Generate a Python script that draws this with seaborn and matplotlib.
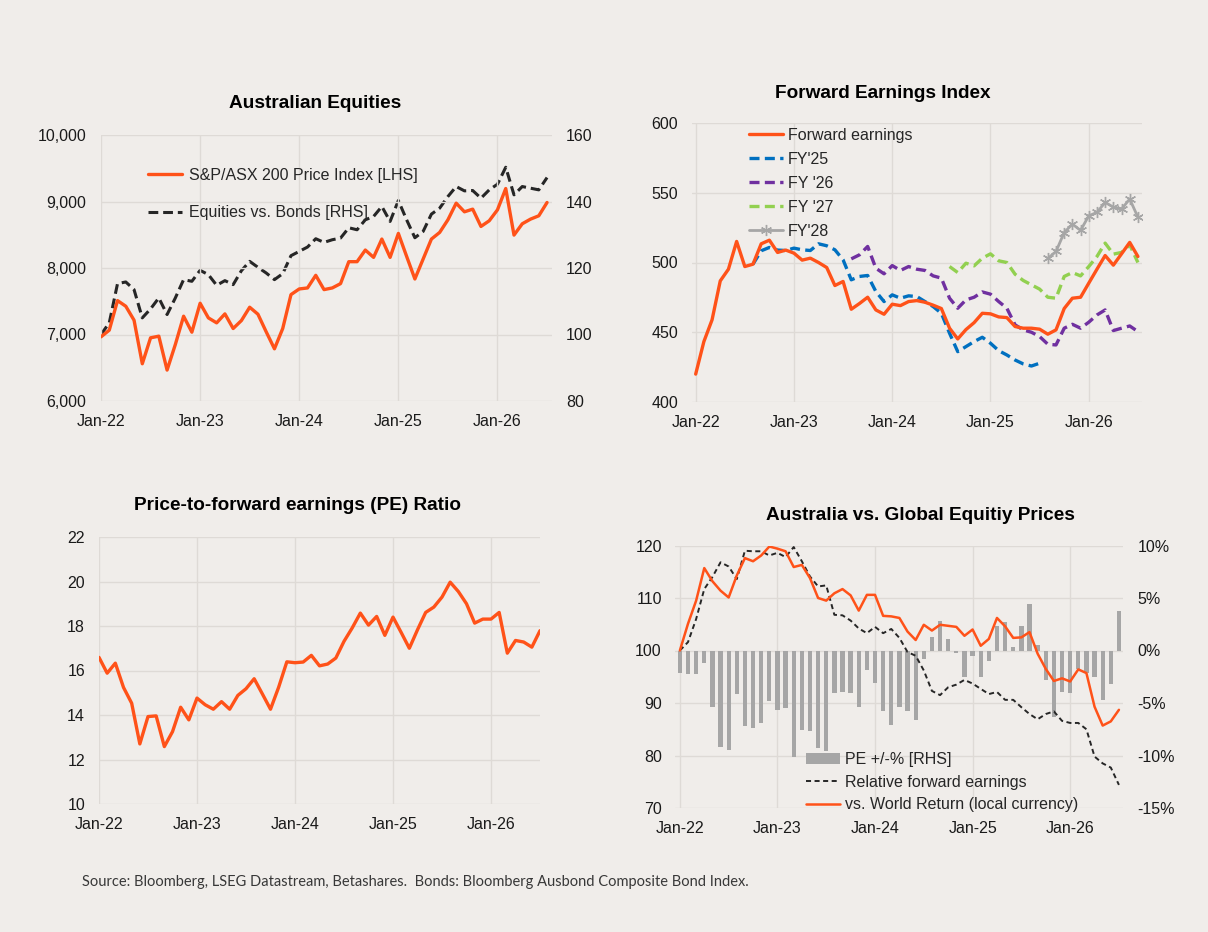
import numpy as np
import pandas as pd
import matplotlib
matplotlib.use("Agg")
import matplotlib.pyplot as plt
from matplotlib.ticker import FuncFormatter
import seaborn as sns

# ---------------- data ----------------
months = list(range(55))  # Jan-22 .. Jul-26, monthly
tick_pos = [0, 12, 24, 36, 48]
tick_labels = ["Jan-22", "Jan-23", "Jan-24", "Jan-25", "Jan-26"]

asx200 = [6965, 7065, 7510, 7425, 7215, 6560, 6950, 6975, 6465, 6850,
          7275, 7035, 7470, 7250, 7175, 7310, 7090, 7210, 7410, 7305,
          7040, 6785, 7090, 7600, 7685, 7700, 7890, 7675, 7700, 7765,
          8095, 8095, 8270, 8160, 8435, 8160, 8520, 8175, 7835, 8135,
          8435, 8535, 8725, 8975, 8845, 8885, 8625, 8710, 8875, 9195,
          8495, 8665, 8735, 8785, 8985]
eq_vs_bonds = [100.0, 103.5, 115.3, 115.8, 113.5, 105.0, 107.7, 111.0, 106.0, 111.0,
               116.5, 116.0, 119.3, 118.0, 114.8, 116.2, 115.0, 119.2, 122.0, 120.2,
               118.5, 116.5, 118.3, 123.7, 125.0, 126.3, 128.8, 127.7, 128.5, 129.0,
               132.1, 131.5, 134.5, 135.5, 138.5, 134.0, 140.3, 134.5, 129.1, 131.0,
               136.2, 138.0, 141.5, 144.5, 143.2, 143.3, 141.0, 143.5, 145.2, 150.3,
               142.0, 144.5, 144.0, 143.5, 147.2]

fwd_earnings = [420.0, 443.3, 458.9, 486.8, 495.2, 515.1, 497.1, 498.8, 513.4, 516.0,
                507.2, 508.9, 506.7, 501.7, 503.1, 500.0, 496.4, 483.5, 486.4, 466.5,
                470.6, 475.1, 466.0, 462.9, 470.1, 469.1, 472.0, 472.7, 471.5, 469.4,
                467.0, 452.9, 445.2, 451.9, 456.9, 463.6, 463.2, 461.0, 460.5, 454.1,
                452.9, 452.9, 452.2, 448.6, 451.7, 467.0, 474.4, 475.1, 485.2, 495.2,
                505.0, 498.1, 506.2, 514.4, 504.3]
fy25_months = list(range(7, 43))
fy25 = [498.8, 508.4, 510.8, 508.9, 508.6, 510.3, 509.1, 508.6, 513.4, 512.0,
        509.1, 501.9, 487.6, 490.0, 490.7, 479.2, 472.0, 476.8, 474.4, 476.1,
        475.6, 472.0, 468.4, 463.6, 449.3, 436.1, 439.7, 443.3, 446.4, 442.1,
        436.8, 433.7, 430.1, 427.3, 425.8, 427.8]
fy26_months = list(range(19, 55))
fy26 = [502.6, 505.5, 511.5, 495.9, 491.9, 497.8, 494.3, 497.1, 495.2, 494.3,
        490.4, 488.8, 474.4, 467.2, 473.2, 475.1, 478.9, 477.3, 472.0, 467.2,
        455.3, 451.7, 450.0, 446.9, 441.4, 440.9, 452.9, 455.7, 452.9, 457.2,
        462.4, 466.0, 451.2, 452.9, 454.5, 450.5]
fy27_months = list(range(31, 55))
fy27 = [497.1, 492.8, 499.5, 497.6, 503.1, 506.2, 501.2, 500.0, 491.6, 487.1,
        484.0, 480.9, 475.1, 474.4, 490.0, 492.8, 490.4, 497.1, 504.3, 513.9,
        506.0, 507.2, 512.7, 500.0]
fy28_months = list(range(43, 55))
fy28 = [502.9, 507.9, 521.5, 527.5, 523.0, 533.5, 535.9, 543.1, 539.7, 538.3,
        545.5, 532.5]

pe_ratio = [16.59, 15.88, 16.33, 15.24, 14.53, 12.70, 13.93, 13.96, 12.58, 13.25,
            14.35, 13.78, 14.76, 14.46, 14.26, 14.60, 14.26, 14.88, 15.18, 15.63,
            14.95, 14.26, 15.25, 16.39, 16.35, 16.38, 16.68, 16.21, 16.29, 16.56,
            17.31, 17.91, 18.58, 18.04, 18.43, 17.58, 18.40, 17.71, 17.00, 17.83,
            18.61, 18.85, 19.30, 19.97, 19.55, 19.00, 18.13, 18.31, 18.31, 18.61,
            16.78, 17.35, 17.28, 17.05, 17.79]

pe_change_pct = [-2.10, -2.25, -2.20, -1.15, -5.40, -9.15, -9.50, -4.15, -7.15, -7.40,
                 -6.90, -4.85, -5.65, -5.50, -10.15, -7.55, -7.65, -9.30, -9.60, -4.00,
                 -3.95, -4.00, -5.40, -1.90, -3.10, -5.80, -7.10, -5.40, -5.80, -6.60,
                 -0.80, 1.25, 2.80, 1.10, -0.20, -2.55, -0.55, -2.55, -1.00, 2.35,
                 2.75, 0.30, 2.30, 4.45, 0.55, -2.85, -6.35, -3.95, -4.00, -1.80,
                 -2.15, -2.55, -4.75, -3.20, 3.80]
rel_fwd_earnings = [100.0, 101.6, 106.0, 111.7, 114.0, 116.8, 116.0, 113.6, 119.0, 118.9,
                    118.9, 118.1, 118.6, 117.8, 119.7, 117.0, 114.1, 112.2, 112.4, 106.8,
                    106.7, 105.7, 104.2, 103.3, 104.5, 103.3, 104.1, 102.4, 99.7, 99.0,
                    96.2, 92.3, 91.5, 93.0, 93.5, 94.4, 93.7, 92.7, 91.7, 92.1,
                    90.6, 90.6, 89.2, 87.9, 86.9, 87.9, 88.4, 86.6, 86.2, 86.2,
                    85.0, 79.8, 78.5, 77.7, 74.4]
vs_world = [100.0, 105.1, 109.5, 115.7, 113.2, 111.4, 110.1, 114.3, 117.6, 117.0,
            118.1, 119.8, 119.4, 118.9, 115.9, 116.3, 113.8, 110.0, 109.5, 110.9,
            111.7, 110.5, 107.6, 110.6, 110.6, 106.6, 106.5, 106.2, 103.6, 102.0,
            104.9, 103.8, 104.9, 104.7, 104.5, 102.8, 104.0, 100.9, 102.2, 106.2,
            104.6, 102.4, 102.5, 103.5, 99.4, 96.5, 94.2, 94.7, 94.1, 96.4,
            95.7, 89.3, 85.7, 86.5, 88.7]

titles = ["Australian Equities", "Forward Earnings Index",
          "Price-to-forward earnings (PE) Ratio", "Australia vs. Global Equitiy Prices"]
source_text = ("Source: Bloomberg, LSEG Datastream, Betashares.  "
               "Bonds: Bloomberg Ausbond Composite Bond Index.")

# ---------------- style ----------------
BG = "#F0EDEA"
GRID = "#DEDAD6"
ORANGE = "#FF5219"
BLUE = "#0070C0"
PURPLE = "#7030A0"
GREEN = "#92D050"
GREY = "#A6A6A6"
TXT = "#1A1A1A"
FS = 11.5

sns.set_theme(style="whitegrid", rc={
    "axes.facecolor": BG, "figure.facecolor": BG, "grid.color": GRID,
    "grid.linewidth": 1.0, "axes.edgecolor": BG,
})
plt.rcParams["font.family"] = ["Liberation Sans", "DejaVu Sans"]
plt.rcParams["axes.unicode_minus"] = False
plt.rcParams["font.size"] = FS

W, H = 1208, 932
fig = plt.figure(figsize=(W / 100, H / 100), dpi=100)


def rect(l, t, r, b):
    return [l / W, 1 - b / H, (r - l) / W, (b - t) / H]


def style_ax(ax, grid=True, ypad=10):
    for s in ax.spines.values():
        s.set_visible(False)
    ax.tick_params(axis="both", length=0, labelsize=FS, labelcolor=TXT)
    ax.tick_params(axis="y", pad=ypad)
    ax.tick_params(axis="x", pad=9.5)
    ax.set_xlabel("")
    ax.set_ylabel("")
    ax.grid(grid)


def set_months(ax):
    ax.set_xticks(tick_pos)
    ax.set_xticklabels(tick_labels)


def legend_kw(x, y, spacing, hlen=2.1, pad=0.4):
    return dict(loc="upper left", frameon=False,
                bbox_to_anchor=(x / W, 1 - y / H), bbox_transform=fig.transFigure,
                borderaxespad=0, borderpad=0, handlelength=hlen,
                handletextpad=pad, labelspacing=spacing, fontsize=FS)


# ---------- Panel 1: Australian Equities ----------
ax1 = fig.add_axes(rect(101, 135, 552, 401))
ax1b = ax1.twinx()
sns.lineplot(x=months, y=eq_vs_bonds, ax=ax1b, color="#262626", lw=2.2,
             linestyle=(0, (3.2, 1.6)), label="Equities vs. Bonds [RHS]")
sns.lineplot(x=months, y=asx200, ax=ax1, color=ORANGE, lw=2.4,
             label="S&P/ASX 200 Price Index [LHS]")
ax1.set_ylim(6000, 10000)
ax1.set_yticks([6000, 7000, 8000, 9000, 10000])
ax1.yaxis.set_major_formatter(FuncFormatter(lambda v, p: f"{v:,.0f}"))
ax1b.set_ylim(80, 160)
ax1b.set_yticks([80, 100, 120, 140, 160])
ax1.set_xlim(0, 54.6)
set_months(ax1)
style_ax(ax1, ypad=10.5)
style_ax(ax1b, grid=False, ypad=10)
ax1.set_zorder(ax1b.get_zorder() + 1)
ax1.patch.set_visible(False)
ax1b.patch.set_visible(True)
h1, l1 = ax1.get_legend_handles_labels()
h2, l2 = ax1b.get_legend_handles_labels()
if ax1b.get_legend():
    ax1b.get_legend().remove()
ax1.legend(h1 + h2, l1 + l2, **legend_kw(148, 168, 1.4, hlen=2.15, pad=0.4))
fig.text(315 / W, 1 - 104 / H, titles[0], ha="center", va="center",
         fontsize=13.7, fontweight="bold", color="black")

# ---------- Panel 2: Forward Earnings Index ----------
ax2 = fig.add_axes(rect(692, 123, 1142, 402))
sns.lineplot(x=months, y=fwd_earnings, ax=ax2, color=ORANGE, lw=2.4,
             label="Forward earnings", zorder=5)
sns.lineplot(x=fy25_months, y=fy25, ax=ax2, color=BLUE, lw=2.4,
             linestyle=(0, (3.0, 1.6)), label="FY'25")
sns.lineplot(x=fy26_months, y=fy26, ax=ax2, color=PURPLE, lw=2.4,
             linestyle=(0, (3.0, 1.6)), label="FY '26")
sns.lineplot(x=fy27_months, y=fy27, ax=ax2, color=GREEN, lw=2.4,
             linestyle=(0, (3.0, 1.6)), label="FY '27")
sns.lineplot(x=fy28_months, y=fy28, ax=ax2, color=GREY, lw=2.0,
             marker=(6, 2, 0), markersize=8, markeredgecolor=GREY,
             markeredgewidth=1.0, label="FY'28")
ax2.set_ylim(400, 600)
ax2.set_yticks([400, 450, 500, 550, 600])
ax2.set_xlim(-0.45, 54.5)
set_months(ax2)
style_ax(ax2)
hh, ll = ax2.get_legend_handles_labels()
ax2.legend(hh, ll, **legend_kw(749, 128, 0.56, hlen=2.15, pad=0.3))
fig.text(883 / W, 1 - 93 / H, titles[1], ha="center", va="center",
         fontsize=13.7, fontweight="bold", color="black")

# ---------- Panel 3: PE ratio ----------
ax3 = fig.add_axes(rect(99, 537, 540, 804))
sns.lineplot(x=months, y=pe_ratio, ax=ax3, color=ORANGE, lw=2.4)
ax3.set_ylim(10, 22)
ax3.set_yticks([10, 12, 14, 16, 18, 20, 22])
ax3.set_xlim(0, 54)
set_months(ax3)
style_ax(ax3)
fig.text(297 / W, 1 - 505 / H, titles[2], ha="center", va="center",
         fontsize=13.7, fontweight="bold", color="black")

# ---------- Panel 4: Australia vs Global ----------
ax4 = fig.add_axes(rect(675, 545.5, 1123, 808))  # bars, RHS scale
sns.barplot(x=months, y=pe_change_pct, ax=ax4, native_scale=True, color=GREY,
            saturation=1, width=0.53, errorbar=None, edgecolor="none",
            linewidth=0, label="PE +/-% [RHS]")
ax4.set_ylim(-15, 10)
ax4.set_yticks([-15, -10, -5, 0, 5, 10])
ax4.yaxis.set_major_formatter(FuncFormatter(lambda v, p: f"{v:.0f}%"))
ax4.set_xlim(-0.6, 54.5)
set_months(ax4)
style_ax(ax4, ypad=10.5)

ax4b = ax4.twinx()  # lines, LHS scale
sns.lineplot(x=months, y=rel_fwd_earnings, ax=ax4b, color="#262626", lw=1.4,
             linestyle=(0, (2.6, 1.8)), label="Relative forward earnings")
sns.lineplot(x=months, y=vs_world, ax=ax4b, color=ORANGE, lw=1.8,
             label="vs. World Return (local currency)")
ax4b.set_ylim(70, 120)
ax4b.set_yticks([70, 80, 90, 100, 110, 120])
style_ax(ax4b, grid=False, ypad=9.5)
ax4b.set_xlim(-0.6, 54.5)
ax4.yaxis.tick_right()
ax4b.yaxis.tick_left()
ax4.tick_params(axis="y", length=0, pad=10.5, labelsize=FS, labelcolor=TXT)
ax4b.tick_params(axis="y", length=0, pad=9.5, labelsize=FS, labelcolor=TXT)
hb, lb = ax4.get_legend_handles_labels()
hl, ll4 = ax4b.get_legend_handles_labels()
if ax4.get_legend():
    ax4.get_legend().remove()
ax4b.legend(hb + hl, lb + ll4, **legend_kw(806, 752, 0.48, hlen=2.15, pad=0.3))
fig.text(920 / W, 1 - 515 / H, titles[3], ha="center", va="center",
         fontsize=13.7, fontweight="bold", color="black")

# ---------- source ----------
fig.text(82 / W, 1 - 882 / H, source_text, ha="left", va="center",
         fontsize=10.5, color="#383838", family=["Lato", "DejaVu Sans"])

fig.savefig("out.png", dpi=100, facecolor=BG)
